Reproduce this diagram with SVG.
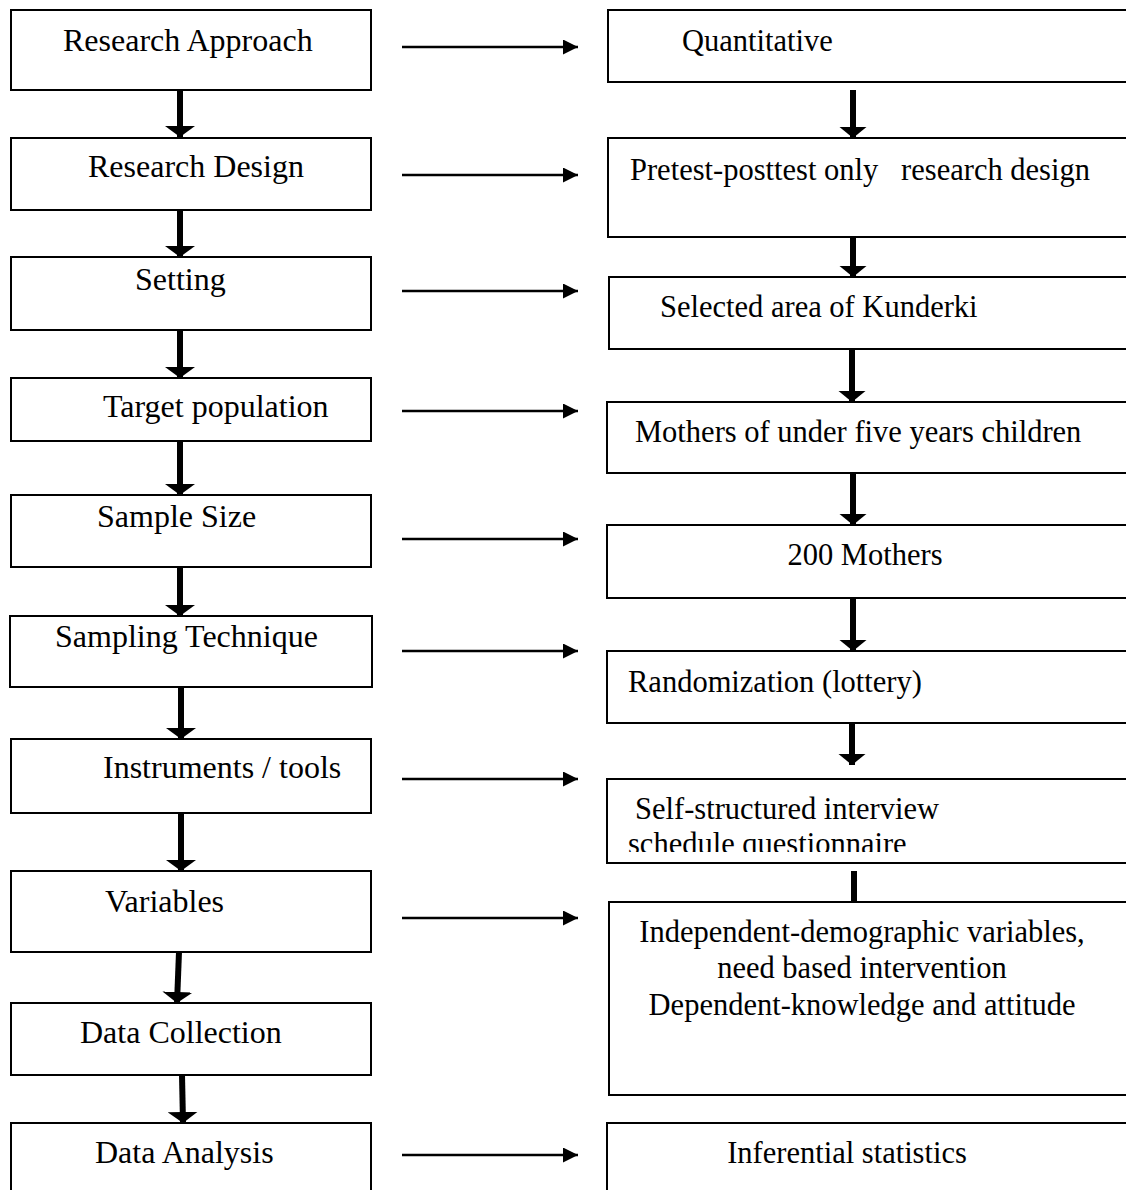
<svg xmlns="http://www.w3.org/2000/svg" width="1126" height="1190" viewBox="0 0 1126 1190">
<style>
.box{fill:#fff;stroke:#000;stroke-width:2}
.t{font-family:"Liberation Serif","Times New Roman",serif;font-size:30.5px;fill:#000}
.l{font-size:32px}
.c{text-anchor:middle}
.h{stroke:#000;stroke-width:2.5;fill:none;marker-end:url(#ah)}
.v{stroke:#000;stroke-width:6;fill:none;marker-end:url(#av)}
.vr{stroke:#000;stroke-width:6;fill:none;marker-end:url(#avr)}
.vl{stroke:#000;stroke-width:6;fill:none}
</style>
<defs>
<marker id="ah" markerUnits="userSpaceOnUse" markerWidth="16" markerHeight="16" refX="15" refY="7.5" orient="auto"><path d="M0,0 L15,7.5 L0,15 z" fill="#000"/></marker>
<marker id="av" markerUnits="userSpaceOnUse" markerWidth="12" markerHeight="30" refX="11" refY="15" orient="auto"><path d="M0,0 L11,15 L0,30 z" fill="#000"/></marker>
<marker id="avr" markerUnits="userSpaceOnUse" markerWidth="12" markerHeight="28" refX="11" refY="13.5" orient="auto"><path d="M0,0 L11,13.5 L0,27 z" fill="#000"/></marker>
<clipPath id="clipR7"><rect x="600" y="779" width="530" height="73"/></clipPath>
</defs>

<g id="n-approach"><rect class="box" x="11" y="10" width="360" height="80"/><text class="t l" x="63" y="51">Research Approach</text></g>
<g id="n-design"><rect class="box" x="11" y="138" width="360" height="72"/><text class="t l" x="88" y="177">Research Design</text></g>
<g id="n-setting"><rect class="box" x="11" y="257" width="360" height="73"/><text class="t l" x="135" y="290">Setting</text></g>
<g id="n-target"><rect class="box" x="11" y="378" width="360" height="63"/><text class="t l" x="103" y="417">Target population</text></g>
<g id="n-size"><rect class="box" x="11" y="495" width="360" height="72"/><text class="t l" x="97" y="527">Sample Size</text></g>
<g id="n-technique"><rect class="box" x="10" y="616" width="362" height="71"/><text class="t l" x="55" y="647">Sampling Technique</text></g>
<g id="n-instruments"><rect class="box" x="11" y="739" width="360" height="74"/><text class="t l" x="103" y="778">Instruments / tools</text></g>
<g id="n-variables"><rect class="box" x="11" y="871" width="360" height="81"/><text class="t l" x="105" y="912">Variables</text></g>
<g id="n-collection"><rect class="box" x="11" y="1003" width="360" height="72"/><text class="t l" x="80" y="1043">Data Collection</text></g>
<g id="n-analysis"><rect class="box" x="11" y="1123" width="360" height="80"/><text class="t l" x="95" y="1163">Data Analysis</text></g>

<g id="r-quant"><rect class="box" x="608" y="10" width="530" height="72"/><text class="t" x="682" y="51">Quantitative</text></g>
<g id="r-design"><rect class="box" x="608" y="138" width="530" height="99"/><text class="t" x="630" y="180" xml:space="preserve">Pretest-posttest only   research design</text></g>
<g id="r-setting"><rect class="box" x="609" y="277" width="530" height="72"/><text class="t" x="660" y="317">Selected area of Kunderki</text></g>
<g id="r-target"><rect class="box" x="607" y="402" width="530" height="71"/><text class="t" x="635" y="442">Mothers of under five years children</text></g>
<g id="r-size"><rect class="box" x="607" y="525" width="530" height="73"/><text class="t c" x="865" y="565">200 Mothers</text></g>
<g id="r-technique"><rect class="box" x="607" y="651" width="530" height="72"/><text class="t" x="628" y="692">Randomization (lottery)</text></g>
<g id="r-instruments"><rect class="box" x="607" y="779" width="530" height="84"/><text class="t" x="635" y="819">Self-structured interview</text><text class="t" x="628" y="854" clip-path="url(#clipR7)">schedule questionnaire</text></g>
<g id="r-variables"><rect class="box" x="609" y="902" width="530" height="193"/><text class="t c" x="862" y="942">Independent-demographic variables,</text><text class="t c" x="862" y="978">need based intervention</text><text class="t c" x="862" y="1015">Dependent-knowledge and attitude</text></g>
<g id="r-analysis"><rect class="box" x="607" y="1123" width="530" height="80"/><text class="t c" x="847" y="1163">Inferential statistics</text></g>

<g id="connectors">
<line class="h" x1="402" y1="47" x2="578" y2="47"/>
<line class="h" x1="402" y1="175" x2="578" y2="175"/>
<line class="h" x1="402" y1="291" x2="578" y2="291"/>
<line class="h" x1="402" y1="411" x2="578" y2="411"/>
<line class="h" x1="402" y1="539" x2="578" y2="539"/>
<line class="h" x1="402" y1="651" x2="578" y2="651"/>
<line class="h" x1="402" y1="779" x2="578" y2="779"/>
<line class="h" x1="402" y1="918" x2="578" y2="918"/>
<line class="h" x1="402" y1="1155" x2="578" y2="1155"/>

<line class="v" x1="180" y1="90" x2="180" y2="137"/>
<line class="v" x1="180" y1="210" x2="180" y2="257"/>
<line class="v" x1="180" y1="330" x2="180" y2="378"/>
<line class="v" x1="180" y1="441" x2="180" y2="495"/>
<line class="v" x1="180" y1="567" x2="180" y2="616"/>
<line class="v" x1="181" y1="687" x2="181" y2="739"/>
<line class="v" x1="181" y1="813" x2="181" y2="871"/>
<line class="v" x1="179" y1="952" x2="177" y2="1003"/>
<line class="v" x1="182" y1="1075" x2="183" y2="1123"/>

<line class="vr" x1="853" y1="90" x2="853" y2="138"/>
<line class="vr" x1="853" y1="237" x2="853" y2="277"/>
<line class="vr" x1="852" y1="349" x2="852" y2="402"/>
<line class="vr" x1="853" y1="473" x2="853" y2="525"/>
<line class="vr" x1="853" y1="598" x2="853" y2="651"/>
<line class="vr" x1="852" y1="724" x2="852" y2="765"/>
<line class="vl" x1="854" y1="871" x2="854" y2="902"/>
</g>
</svg>
